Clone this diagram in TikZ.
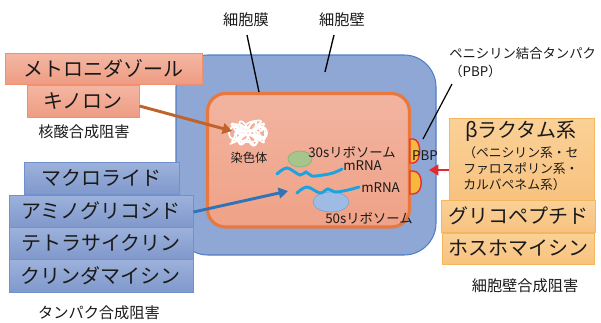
\documentclass[tikz,border=0pt]{standalone}
\usepackage{fontspec}
\setmainfont{Noto Sans CJK JP}
\usetikzlibrary{arrows.meta,calc}

\definecolor{wallfill}{HTML}{8FA7D4}
\definecolor{wallline}{HTML}{4F7FC4}
\definecolor{memfillA}{HTML}{F2B4A0}
\definecolor{memfillB}{HTML}{EFA287}
\definecolor{memline}{HTML}{E8783E}
\definecolor{salmontop}{HTML}{F4B7A3}
\definecolor{salmonbot}{HTML}{EE9C83}
\definecolor{salmonline}{HTML}{F0906F}
\definecolor{bluetop}{HTML}{9DB2DB}
\definecolor{bluebot}{HTML}{8098CC}
\definecolor{blueline}{HTML}{7191CA}
\definecolor{ambertop}{HTML}{FAD197}
\definecolor{amberbot}{HTML}{F8C27F}
\definecolor{amberline}{HTML}{F5B65E}
\definecolor{brownarrow}{HTML}{C0622C}
\definecolor{bluearrow}{HTML}{2E74B6}
\definecolor{redarrow}{HTML}{E5282C}
\definecolor{rnacyan}{HTML}{1CA3E0}
\definecolor{smallsub}{HTML}{A6C48C}
\definecolor{smallsubline}{HTML}{8DB177}
\definecolor{largesub}{HTML}{9DBBE3}
\definecolor{largesubline}{HTML}{7FA2D5}
\definecolor{pbpfill}{HTML}{F6B83D}
\definecolor{pbpline}{HTML}{E8302C}
\definecolor{txt}{HTML}{1A1A1A}

\tikzset{
  bigfont/.style={font=\fontsize{15}{18}\selectfont},
  catfont/.style={font=\fontsize{11.4}{13}\selectfont},
  smallfont/.style={font=\fontsize{10}{12}\selectfont},
  drugbox/.style={line width=0.75pt, inner sep=0pt, text=txt, bigfont},
  salmonbox/.style={drugbox, draw=salmonline, top color=salmontop, bottom color=salmonbot},
  bluebox/.style={drugbox, draw=blueline, top color=bluetop, bottom color=bluebot},
  amberbox/.style={drugbox, draw=amberline, top color=ambertop, bottom color=amberbot},
  catlabel/.style={catfont, text=txt, inner sep=0pt},
  innerlabel/.style={smallfont, text=txt, inner sep=0pt},
  leader/.style={draw=black, line width=1pt},
  fatarrow/.style={line width=2.2pt, -{Triangle[length=7pt,width=8pt]}},
  rna/.style={draw=rnacyan, line width=2.2pt, line cap=round},
  pbp/.style={fill=pbpfill, draw=pbpline, line width=1.1pt},
  scribble/.style={draw=white, line width=1.2pt, line join=round}
}

\begin{document}
\begin{tikzpicture}[x=0.75pt,y=-0.75pt]
\useasboundingbox (0,0) rectangle (601,322);

% cell wall and cell membrane
\draw[fill=wallfill, draw=wallline, line width=0.8pt, rounded corners=24pt]
  (176,55) rectangle (436,255);
\draw[top color=memfillA, bottom color=memfillB, draw=memline, line width=2.4pt, rounded corners=13.5pt]
  (207.5,93.5) rectangle (409.5,227);

% leaders for the two envelope labels
\node[catlabel] (memlab) at (246,20) {細胞膜};
\node[catlabel] (walllab) at (342,20) {細胞壁};
\coordinate (memA) at (247,35);
\coordinate (memB) at (259,92);
\coordinate (wallA) at (334,35);
\coordinate (wallB) at (325,72);
\draw[leader] (memA) -- (memB);
\draw[leader] (wallA) -- (wallB);

% chromosome: a tangle of white loops
\draw[scribble] plot[domain=0:360, samples=300, smooth]
  ({248+13*cos(\x)+6*cos(9*\x)}, {133+7*sin(\x)+5*sin(11*\x)});
\draw[scribble] plot[domain=0:360, samples=300, smooth]
  ({247+12*cos(2*\x)+5*sin(13*\x)}, {132+8*sin(3*\x)+4*cos(8*\x)});
\draw[scribble] plot[domain=0:360, samples=200, smooth]
  ({250+15*cos(\x)}, {134+9*sin(\x)+3*sin(6*\x)});
\coordinate (chromo) at (232,131);
\node[innerlabel, font=\fontsize{9.2}{11}\selectfont] (chromolab) at (249,158) {染色体};

% ribosome subunits and mRNA strands
\draw[fill=smallsub, draw=smallsubline, line width=0.5pt] (300,159) ellipse (12 and 8);
\draw[fill=largesub, draw=largesubline, line width=0.5pt] (331,202) ellipse (18 and 10);
\draw[rna] plot[smooth, tension=0.6] coordinates
  {(277,174) (287,168) (300,175) (306,172) (312,176) (323,175) (333,173) (342,169)};
\draw[rna] plot[smooth, tension=0.6] coordinates
  {(297,193) (307,187) (320,193) (328,189) (335,192) (348,190) (359,187)};
\node[innerlabel] (s30) at (352,152) {30sリボソーム};
\node[innerlabel, anchor=west] (rna1) at (343,166) {mRNA};
\node[innerlabel, anchor=west] (rna2) at (361,188) {mRNA};
\node[innerlabel] (s50) at (369,218) {50sリボソーム};
\coordinate (ribo) at (288,191);

% penicillin binding proteins
\draw[pbp] (410,139) -- (413,139) .. controls (422,139) and (422,163) .. (413,163) -- (410,163) -- cycle;
\draw[pbp] (410,171) -- (413,171) .. controls (424,171) and (424,194) .. (413,194) -- (410,194) -- cycle;
\node[innerlabel] (pbptxt) at (425,156) {PBP};
\coordinate (pbpA) at (423,139);
\coordinate (pbpB) at (452,84);
\draw[black, line width=0.9pt] (pbpA) -- (pbpB);
\node[innerlabel, anchor=north west, align=left, font=\fontsize{10}{13.5}\selectfont] (pbplab) at (449,47)
  {ペニシリン結合タンパク\\（PBP）};
\coordinate (pbptip) at (429,170);

% nucleic acid synthesis inhibitors
\node[salmonbox, minimum width=147.75pt, minimum height=23.25pt] (metro) at (103.5,68.5) {メトロニダゾール};
\node[salmonbox, minimum width=84pt, minimum height=24pt] (kino) at (83,101) {キノロン};
\node[catlabel] (nuclab) at (84,132) {核酸合成阻害};

% protein synthesis inhibitors
\node[bluebox, minimum width=116.25pt, minimum height=24pt] (macro) at (101.5,178) {マクロライド};
\node[bluebox, minimum width=138pt, minimum height=24pt] (amino) at (101,211) {アミノグリコシド};
\node[bluebox, minimum width=138pt, minimum height=24pt] (tetra) at (101,243) {テトラサイクリン};
\node[bluebox, minimum width=138pt, minimum height=24.75pt] (clinda) at (101,275.5) {クリンダマイシン};
\node[catlabel] (protlab) at (99,313) {タンパク合成阻害};

% cell wall synthesis inhibitors
\node[amberbox, minimum width=108.75pt, minimum height=61.5pt] (beta) at (521.5,159) {};
\node[bigfont, text=txt, inner sep=0pt] (betatitle) at (521,131) {βラクタム系};
\node[text=txt, inner sep=0pt, anchor=west, align=left, font=\fontsize{9.6}{12}\selectfont] (betalist) at (463,169)
  {（ペニシリン系・セ\\ファロスポリン系・\\カルバペネム系）};
\node[amberbox, minimum width=115.5pt, minimum height=24pt] (glyco) at (518,216) {グリコペプチド};
\node[amberbox, minimum width=114pt, minimum height=23.25pt] (fosfo) at (518,248.5) {ホスホマイシン};
\node[catlabel] (walllab2) at (525,286) {細胞壁合成阻害};

% targets of each drug class
\draw[fatarrow, brownarrow] ($(kino.east)+(0,5)$) -- (chromo);
\draw[fatarrow, bluearrow] ($(amino.east)+(0,1)$) -- (ribo);
\draw[fatarrow, redarrow] ($(beta.west)+(0,11)$) -- (pbptip);

\end{tikzpicture}
\end{document}
